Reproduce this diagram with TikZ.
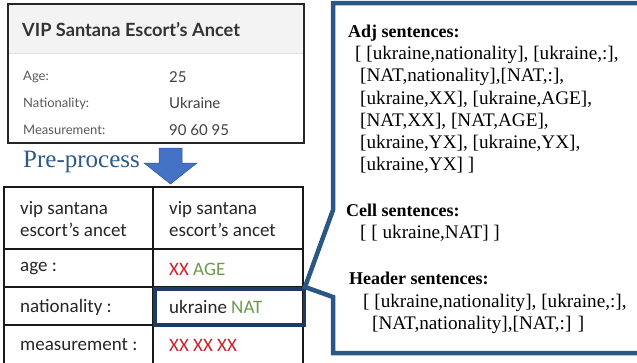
\documentclass[tikz,border=0pt]{standalone}
\usepackage{fontspec}
\setmainfont{Liberation Serif}
\newfontfamily\latofont{Lato}
\newfontfamily\carlfont{Carlito}
\definecolor{calloutblue}{HTML}{2A5785}
\definecolor{navy}{HTML}{1F3A64}
\definecolor{arrowblue}{HTML}{4472C4}
\definecolor{arrowdark}{HTML}{2F5597}
\definecolor{ppblue}{HTML}{2E5A88}
\definecolor{xxred}{HTML}{D0202A}
\definecolor{natgreen}{HTML}{6A9A4A}
\definecolor{headgray}{HTML}{F3F3F3}
\tikzset{
  shottitle/.style={anchor=west, inner sep=0pt, text=black!80, font=\latofont\bfseries\fontsize{18.2}{21}\selectfont},
  shotlabel/.style={anchor=west, inner sep=0pt, text=black!65, font=\latofont\fontsize{13}{15}\selectfont},
  shotvalue/.style={anchor=west, inner sep=0pt, text=black!75, font=\latofont\fontsize{15}{18}\selectfont},
  celltext/.style={anchor=west, inner sep=0pt, text=black!85, align=left, font=\carlfont\fontsize{19}{22}\selectfont},
  sentence/.style={anchor=west, inner sep=0pt, text=black, font=\fontsize{19.2}{22}\selectfont},
  senthead/.style={anchor=west, inner sep=0pt, text=black, font=\bfseries\fontsize{18}{22}\selectfont},
  gridline/.style={line width=1.3pt, black!90},
}
\begin{document}
\begin{tikzpicture}[x=1pt,y=-1pt]
\useasboundingbox (0,0) rectangle (637,362);
\clip (0,0) rectangle (637,362);
% screenshot
\fill[headgray] (8,4) rectangle (304,53);
\draw[black!12, line width=0.8pt] (8,53) -- (304,53);
\draw[line width=1.5pt, black!85] (8,4) rectangle (304,143);
\node[shottitle] (title) at (22,30) {VIP Santana Escort’s Ancet};
\node[shotlabel] (lage) at (23,77) {Age:};
\node[shotlabel] (lnat) at (23,103.5) {Nationality:};
\node[shotlabel] (lmea) at (23,130) {Measurement:};
\node[shotvalue] (vage) at (169,77) {25};
\node[shotvalue] (vnat) at (169,103.5) {Ukraine};
\node[shotvalue] (vmea) at (169,130) {90 60 95};
% pre-process
\node[anchor=west, inner sep=0pt, text=ppblue, font=\fontsize{25}{28}\selectfont] (pp) at (23,162) {Pre-process};
\fill[arrowblue, draw=arrowdark, line width=0.5pt] (159,148) -- (182,148) -- (182,163) -- (197,163) -- (170.5,184) -- (144,163) -- (159,163) -- cycle;
% table
\draw[gridline] (4,187) rectangle (303,370);
\draw[gridline] (153,187) -- (153,370);
\draw[gridline] (4,249) -- (303,249);
\draw[gridline] (4,287) -- (303,287);
\draw[gridline] (4,325) -- (303,325);
\node[celltext] (h1) at (20,219) {vip santana\\escort’s ancet};
\node[celltext] (h2) at (169,219) {vip santana\\escort’s ancet};
\node[celltext] (a1) at (20,269) {age :};
\node[celltext] (a2) at (169,269) {\textcolor{xxred}{XX} \textcolor{natgreen}{AGE}};
\node[celltext] (n1) at (20,307) {nationality :};
\node[celltext] (n2) at (169,307) {ukraine \textcolor{natgreen}{NAT}};
\node[celltext] (m1) at (20,345) {measurement :};
\node[celltext] (m2) at (169,345) {\textcolor{xxred}{XX XX XX}};
\draw[navy, line width=3.5pt] (155,289) rectangle (304.5,325);
% callout
\draw[calloutblue, line width=4.5pt, line join=miter] (650,3) -- (333,3) -- (333,210) -- (305,287) -- (333,297) -- (333,353) -- (650,353);
\node[senthead] (adj) at (348,33) {Adj sentences:};
\node[sentence] (adj1) at (355,55) {[ [ukraine,nationality], [ukraine,:],};
\node[sentence] (adj2) at (360,77) {[NAT,nationality],[NAT,:],};
\node[sentence] (adj3) at (360,99) {[ukraine,XX], [ukraine,AGE],};
\node[sentence] (adj4) at (360,121) {[NAT,XX], [NAT,AGE],};
\node[sentence] (adj5) at (360,143) {[ukraine,YX], [ukraine,YX],};
\node[sentence] (adj6) at (360,165) {[ukraine,YX] ]};
\node[senthead] (cell) at (346,210) {Cell sentences:};
\node[sentence] (cell1) at (360,233) {[ [ ukraine,NAT] ]};
\node[senthead] (head) at (349,278) {Header sentences:};
\node[sentence] (head1) at (363,303) {[ [ukraine,nationality], [ukraine,:],};
\node[sentence] (head2) at (372,325) {[NAT,nationality],[NAT,:] ]};
\end{tikzpicture}
\end{document}
